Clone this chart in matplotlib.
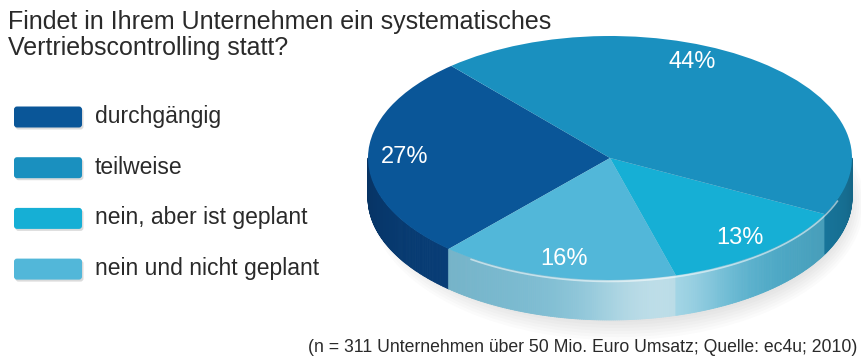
import numpy as np
import matplotlib
matplotlib.use('Agg')
import matplotlib.pyplot as plt
from matplotlib.collections import PolyCollection
from matplotlib.patches import FancyBboxPatch, Ellipse
from matplotlib.colors import to_rgb

plt.rcParams['font.family'] = ['Liberation Sans', 'DejaVu Sans']

title_lines = ["Findet in Ihrem Unternehmen ein systematisches",
               "Vertriebscontrolling statt?"]
categories = ["durchgängig", "teilweise", "nein, aber ist geplant", "nein und nicht geplant"]
values = [27, 44, 13, 16]
colors = ['#0a5698', '#1a90bf', '#16afd5', '#52b7d9']
side_colors = ['#08407c', '#1a82ac', '#4fb0cf', '#7bbcd2']
pie_order = [0, 3, 2, 1]   # counter-clockwise drawing order
footnote = "(n = 311 Unternehmen über 50 Mio. Euro Umsatz; Quelle: ec4u; 2010)"

W, H = 862, 363
fig = plt.figure(figsize=(W / 100, H / 100), dpi=100)
fig.patch.set_facecolor('white')

# pie geometry (pixels)
cx, cy, rx, ry, depth = 610, 158, 242, 122, 40
d = depth / ry
start = 131

ax = fig.add_axes([0, 0, 1, 1])
vals = [values[i] for i in pie_order]
cols = [colors[i] for i in pie_order]
wedges, texts, autotexts = ax.pie(
    vals, colors=cols, startangle=start, counterclock=True, radius=1,
    center=(0, 0), autopct=lambda p: f'{p:.0f}%', pctdistance=0.85,
    wedgeprops=dict(linewidth=0.3, edgecolor='none'),
    textprops=dict(color='white', fontsize=17))
ax.set_aspect('auto')
ax.set_xlim(-cx / rx, (W - cx) / rx)
ax.set_ylim((cy - H) / ry, cy / ry)
ax.axis('off')
for w in wedges:
    w.set_zorder(3)
for t in autotexts:
    t.set_zorder(5)

# move the big slice's label a bit towards the top
big = vals.index(max(vals))
bounds = start + 360 * np.cumsum([0] + vals) / sum(vals)
mid = np.deg2rad((bounds[big] + bounds[big + 1]) / 2 + 15)
autotexts[big].set_position((0.86 * np.cos(mid), 0.86 * np.sin(mid)))

# soft shadow below the pie
for s in range(8):
    ax.add_patch(Ellipse((0.03, -d - 0.04), 1.9 + 0.02 * s, 1.9 + 0.05 * s,
                         fc='#888888', ec='none', alpha=0.03, zorder=0))

# 3D side
polys, fcs = [], []
for k in range(len(vals)):
    a0, a1 = bounds[k], bounds[k + 1]
    base = np.array(to_rgb(side_colors[pie_order[k]]))
    for off in (0, 360, -360):
        lo, hi = max(a0, 180 + off), min(a1, 360 + off)
        if hi <= lo:
            continue
        ts = np.linspace(lo, hi, max(2, int((hi - lo) * 2) + 1))
        for t0, t1 in zip(ts[:-1], ts[1:]):
            tm = (t0 + t1) / 2 - off
            light = 0.5 * np.exp(-((tm - 282) / 18) ** 2)
            dark = 0.22 * ((tm - 270) / 90) ** 2
            c = base * (1 - dark)
            c = c * (1 - light) + light
            r0, r1 = np.deg2rad(t0), np.deg2rad(t1)
            polys.append([(np.cos(r0), np.sin(r0)), (np.cos(r1), np.sin(r1)),
                          (np.cos(r1), np.sin(r1) - d), (np.cos(r0), np.sin(r0) - d)])
            fcs.append(np.clip(c, 0, 1))
pc = PolyCollection(polys, facecolors=fcs, edgecolors=fcs, linewidths=0.6, zorder=2)
ax.add_collection(pc)

# rim highlight
tt = np.deg2rad(np.linspace(235, 340, 200))
ax.plot(np.cos(tt), np.sin(tt) - 0.012, color='white', lw=1.2, alpha=0.55, zorder=4)

# overlay in pixel coordinates for text and legend
ov = fig.add_axes([0, 0, 1, 1])
ov.set_xlim(0, W)
ov.set_ylim(H, 0)
ov.axis('off')
ov.patch.set_alpha(0)

tc = '#2a2a2a'
ov.text(8, 29, title_lines[0], fontsize=18, color=tc, va='baseline', ha='left')
ov.text(8, 55, title_lines[1], fontsize=18, color=tc, va='baseline', ha='left')

for i, cat in enumerate(categories):
    yc = 117 + i * 50.7
    ov.add_patch(FancyBboxPatch((15.5, yc - 10.5 + 2), 68, 21,
                                boxstyle='round,pad=0,rounding_size=3',
                                fc='#9a9a9a', ec='none', alpha=0.35))
    ov.add_patch(FancyBboxPatch((14, yc - 10.5), 68, 21,
                                boxstyle='round,pad=0,rounding_size=3',
                                fc=colors[i], ec='none'))
    ov.text(95, yc + 6, cat, fontsize=16.5, color=tc, va='baseline', ha='left')

ov.text(857, 352, footnote, fontsize=12.7, color=tc, va='baseline', ha='right')

fig.savefig('out.png', dpi=100, facecolor='white')
